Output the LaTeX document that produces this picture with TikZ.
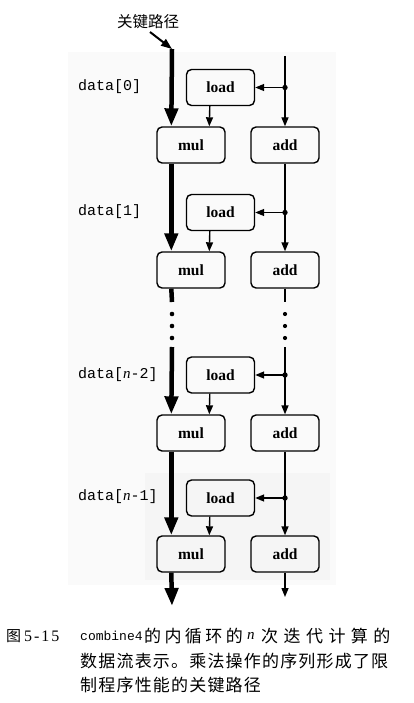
\documentclass[tikz,border=0pt]{standalone}
\usepackage{fontspec}
\setmainfont{Liberation Serif}
\setmonofont{Liberation Mono}
\newfontfamily\cjk{Noto Sans CJK SC}
\newfontfamily\cjkA{Noto Sans CJK SC}[LetterSpace=7]
\newfontfamily\cjkB{Noto Sans CJK SC}[LetterSpace=20]
\newfontfamily\cjkC{Noto Sans CJK SC}[LetterSpace=32]
\newfontfamily\spserif{Liberation Serif}[LetterSpace=12]
\usetikzlibrary{arrows.meta}
\tikzset{
  opbox/.style={draw, line width=1.4pt, rounded corners=5pt, minimum width=68pt, minimum height=36pt,
    inner sep=0pt, font=\fontsize{15.5}{17}\selectfont\bfseries},
  crit/.style={line width=4.5pt, -{Triangle[length=18pt,width=13pt]}},
  critline/.style={line width=4.5pt},
  thinarr/.style={line width=1.4pt, -{Triangle[length=9pt,width=7pt]}},
  thinline/.style={line width=1.4pt},
  kparr/.style={line width=2pt, -{Triangle[length=11pt,width=8pt]}},
  dlabel/.style={anchor=west, inner sep=0pt, font=\fontsize{15}{17}\selectfont\ttfamily},
  capt/.style={anchor=west, inner sep=0pt},
}
\begin{document}
\begin{tikzpicture}[x=1pt,y=-1pt]
\useasboundingbox (0,0) rectangle (414,703);
% scan tint
\fill[gray!4] (68,52) rectangle (336,585);
\fill[gray!8] (145,473) rectangle (330,580);

% header
\node[font=\cjk\fontsize{15.5}{17}\selectfont, inner sep=0pt] (kp) at (148,22) {关键路径};
\coordinate (kps) at (150,32);
\coordinate (ct) at (172,49);
\coordinate (rt) at (285,56);

% iteration boxes
\node[opbox] (l1) at (220.5,87.5) {load};
\node[opbox] (m1) at (191,145) {mul};
\node[opbox] (a1) at (285,145) {add};
\node[opbox] (l2) at (220.5,212.5) {load};
\node[opbox] (m2) at (191,270) {mul};
\node[opbox] (a2) at (285,270) {add};
\node[opbox] (l3) at (220.5,375) {load};
\node[opbox] (m3) at (191,433) {mul};
\node[opbox] (a3) at (285,433) {add};
\node[opbox] (l4) at (220.5,498) {load};
\node[opbox] (m4) at (191,554) {mul};
\node[opbox] (a4) at (285,554) {add};

% labels
\node[dlabel] (d0) at (78,87) {data[0]};
\node[dlabel] (d1) at (78,212) {data[1]};
\node[dlabel] (d2) at (78,375) {data[{\rmfamily\itshape n}-2]};
\node[dlabel] (d3) at (78,497) {data[{\rmfamily\itshape n}-1]};

% header arrow
\draw[kparr] (kps) -- (ct);

% critical path (thick)
\draw[crit] (ct) -- ([xshift=15pt]m1.north west);
\draw[crit] ([xshift=15pt]m1.south west) -- ([xshift=15pt]m2.north west);
\coordinate (lb) at (172,302);
\coordinate (lc) at (172,347);
\draw[critline] ([xshift=15pt]m2.south west) -- (lb);
\draw[crit] (lc) -- ([xshift=15pt]m3.north west);
\draw[crit] ([xshift=15pt]m3.south west) -- ([xshift=15pt]m4.north west);
\coordinate (mb) at (172,606);
\draw[crit] ([xshift=15pt]m4.south west) -- (mb);
\foreach \yy in {314,326,338} \fill (172,\yy) circle (2.3pt);

% right chain
\draw[thinarr] (rt) -- (a1.north);
\draw[thinarr] (a1.south) -- (a2.north);
\coordinate (rb) at (285,302);
\coordinate (rc) at (285,347);
\draw[thinline] (a2.south) -- (rb);
\draw[thinarr] (rc) -- (a3.north);
\draw[thinarr] (a3.south) -- (a4.north);
\coordinate (ab) at (285,597);
\draw[thinarr] (a4.south) -- (ab);
\foreach \yy in {314,326,338} \fill (285,\yy) circle (2.1pt);

% junctions to loads
\foreach \i in {1,2,3,4}{
  \coordinate (j\i) at (l\i.east -| a\i.north);
  \fill (j\i) circle (2.7pt);
  \draw[thinarr] (j\i) -- (l\i.east);
  \draw[thinarr] ([xshift=24pt]l\i.south west) -- ([xshift=53pt]m\i.north west);
}

% caption
\node[capt] (c0a) at (6,636) {\cjk\fontsize{15}{17}\selectfont 图};
\node[capt] (c0b) at (24,636) {\spserif\fontsize{16}{18}\selectfont 5-15};
\node[capt] (c1a) at (80,636) {\ttfamily\fontsize{13}{15}\selectfont combine4};
\node[capt] (c1b) at (144,636) {\cjkB\fontsize{17}{19}\selectfont 的内循环的};
\node[capt] (c1c) at (247,636) {\fontsize{15}{17}\selectfont\itshape n};
\node[capt] (c1d) at (261,636) {\cjkC\fontsize{17}{19}\selectfont 次迭代计算的};
\node[capt] (c2) at (80,661) {\cjkA\fontsize{17}{19}\selectfont 数据流表示。乘法操作的序列形成了限};
\node[capt] (c3) at (80,685) {\cjkA\fontsize{17}{19}\selectfont 制程序性能的关键路径};
\end{tikzpicture}
\end{document}
